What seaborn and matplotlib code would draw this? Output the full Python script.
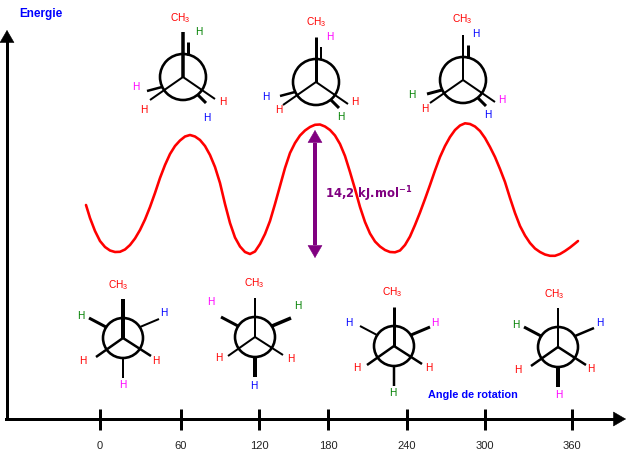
import matplotlib
matplotlib.use("Agg")
import matplotlib.pyplot as plt
from matplotlib.patches import Circle
import seaborn as sns
import pandas as pd

sns.set_style("white")
plt.rcParams["font.family"] = ["Liberation Sans", "DejaVu Sans"]
plt.rcParams["mathtext.default"] = "regular"

# Chart values, in the picture's own rotation scale (pixel positions of the uneven axis)
tick_pos = [100, 181, 259, 328, 407, 485, 572]
tick_labels = ["0", "60", "120", "180", "240", "300", "360"]
curve_x = [86, 90, 95, 100, 105, 110, 115, 120, 125, 130, 135, 140, 145, 150, 155, 160, 165, 170, 175, 180,
           185, 190, 195, 200, 205, 210, 215, 220, 225, 230, 235, 240, 245, 250, 255, 260, 265, 270, 275, 280,
           285, 290, 295, 300, 305, 310, 315, 320, 325, 330, 335, 340, 345, 350, 355, 360, 365, 370, 375, 380,
           385, 390, 395, 400, 405, 410, 415, 420, 425, 430, 435, 440, 445, 450, 455, 460, 465, 470, 475, 480,
           485, 490, 495, 500, 505, 510, 515, 520, 525, 530, 535, 540, 545, 550, 555, 560, 565, 570, 575, 578]
curve_y = [205, 218, 231, 241, 247, 250.5, 252, 251.8, 249.5, 245, 238.5, 230, 219.5, 207, 193, 178, 165, 154, 146, 140.5,
           136.5, 135, 136.5, 140, 146, 155, 167, 183, 204, 223, 237.5, 246.5, 252, 254, 251.5, 244, 234, 221, 204, 186,
           168, 153, 143, 135.5, 130.5, 127, 124.8, 124.5, 126.5, 130, 135.5, 144, 156, 172, 189, 207, 222, 233.5, 241.5, 246.5,
           250, 252, 252.3, 250.5, 245, 236.5, 225, 212.5, 199, 185, 170.5, 157, 146, 137, 130, 125.5, 123.3, 124, 126.5, 131,
           138, 147, 157, 169, 182, 198, 213, 226, 235.5, 243, 248.5, 252, 254.5, 255.8, 255.8, 254, 251, 247.5, 243.5, 241]

# Newman projections: centres, radii, bond line widths (px), labels
top_centres = [(183, 77), (316, 82), (463, 80)]
bottom_centres = [(123, 338), (255, 337), (394, 346), (558, 347)]
top_radius = 23
bottom_radius = 20
top_bonds = [((0, 0), (0, -45)), ((0, 0), (-33, 23)), ((0, 0), (32, 22)),
             ((5, -22), (5, -35)), ((-21, 10), (-36, 14)), ((15, 18), (23, 26))]
bottom_bonds = [((0, 0), (0, -39)), ((0, 0), (-27, 19)), ((0, 0), (28, 18)),
                ((0, 20), (0, 40)), ((-17, -11), (-34, -20)), ((17, -11), (36, -19))]
top_widths = [[3.5, 2, 2, 3, 2.5, 3], [3, 2, 2, 2, 2.5, 3], [2, 2, 2, 3, 3, 3]]
bottom_widths = [[4, 2.5, 2.5, 2, 3, 2], [2, 2, 2, 4, 3, 3.5], [3, 2.5, 2.5, 2.5, 2, 3], [2, 2.5, 2.5, 4, 3, 2.5]]

RED, GREEN, BLUE, PINK, PURPLE = "#ff0000", "#008000", "#0000ff", "#ff00ff", "#800080"
CH3 = "CH$_3$"
labels = [
    (CH3, 180, 18, RED), ("H", 199, 32, GREEN), ("H", 136, 87, PINK), ("H", 144, 110, RED), ("H", 223, 102, RED), ("H", 207, 118, BLUE),
    (CH3, 316, 22, RED), ("H", 330, 37, PINK), ("H", 266, 97, BLUE), ("H", 279, 110, RED), ("H", 355, 102, RED), ("H", 341, 117, GREEN),
    (CH3, 462, 19, RED), ("H", 476, 34, BLUE), ("H", 412, 95, GREEN), ("H", 425, 109, RED), ("H", 502, 100, PINK), ("H", 488, 115, BLUE),
    (CH3, 118, 285, RED), ("H", 81, 316, GREEN), ("H", 164, 313, BLUE), ("H", 83, 361, RED), ("H", 156, 361, RED), ("H", 123, 385, PINK),
    (CH3, 254, 283, RED), ("H", 211, 302, PINK), ("H", 298, 306, GREEN), ("H", 219, 358, RED), ("H", 291, 359, RED), ("H", 254, 386, BLUE),
    (CH3, 392, 292, RED), ("H", 349, 323, BLUE), ("H", 435, 323, PINK), ("H", 357, 368, RED), ("H", 429, 368, RED), ("H", 393, 393, GREEN),
    (CH3, 554, 294, RED), ("H", 516, 325, GREEN), ("H", 600, 323, BLUE), ("H", 518, 370, RED), ("H", 591, 369, RED), ("H", 559, 395, PINK),
]

W, H = 626, 465
PX = 72 / 100
fig = plt.figure(figsize=(W / 100, H / 100), dpi=100, facecolor="white")
ax = fig.add_axes([0, 0, 1, 1])
ax.set_xlim(0, W)
ax.set_ylim(H, 0)
ax.patch.set_alpha(0)

df = pd.DataFrame({"angle": curve_x, "E": curve_y})
sns.lineplot(data=df, x="angle", y="E", ax=ax, color=RED, lw=2.6 * PX, sort=False, estimator=None)
for line in ax.get_lines():
    line.set_solid_joinstyle("round")
ax.set_xlabel("")
ax.set_ylabel("")

# Axes as spines and ticks
AX_X, AX_Y = 7, 419
for s in ("top", "right"):
    ax.spines[s].set_visible(False)
ax.spines["left"].set_position(("data", AX_X))
ax.spines["bottom"].set_position(("data", AX_Y))
ax.spines["left"].set_bounds(42, AX_Y)
ax.spines["bottom"].set_bounds(AX_X - 1, 613)
for s in ("left", "bottom"):
    ax.spines[s].set_linewidth(3 * PX)
    ax.spines[s].set_color("black")
ax.set_yticks([])
ax.set_xticks(tick_pos)
ax.set_xticklabels(tick_labels, fontsize=8, color="#222222")
ax.tick_params(axis="x", direction="inout", length=21 * PX, width=3 * PX, color="black", pad=8, bottom=True)

def head(base, tip, color):
    ax.annotate("", xy=tip, xytext=base, xycoords="data", textcoords="data", annotation_clip=False,
                arrowprops=dict(arrowstyle="-|>,head_length=0.86,head_width=0.5", color=color, lw=0.4,
                                shrinkA=0, shrinkB=0, mutation_scale=10))

head((AX_X, 43), (AX_X, 30), "black")
head((612, AX_Y), (626, AX_Y), "black")
ax.plot([315, 315], [143, 245], color=PURPLE, lw=4 * PX, solid_capstyle="butt")
head((315, 144), (315, 130), PURPLE)
head((315, 244), (315, 258), PURPLE)

# Newman projections
for centres, radius, bonds, widths in ((top_centres, top_radius, top_bonds, top_widths),
                                       (bottom_centres, bottom_radius, bottom_bonds, bottom_widths)):
    for (cx, cy), ws in zip(centres, widths):
        ax.add_patch(Circle((cx, cy), radius, fill=False, ec="black", lw=2.6 * PX, zorder=3))
        for ((x0, y0), (x1, y1)), w in zip(bonds, ws):
            ax.plot([cx + x0, cx + x1], [cy + y0, cy + y1], color="black", lw=w * PX,
                    solid_capstyle="butt", zorder=3)

for text, x, y, color in labels:
    ax.text(x, y, text, color=color, fontsize=7.3, ha="center", va="center", zorder=4)

ax.text(19, 14, "Energie", color=BLUE, fontsize=8.5, fontweight="bold", ha="left", va="center")
ax.text(428, 395, "Angle de rotation", color=BLUE, fontsize=7.8, fontweight="bold", ha="left", va="center")
ax.text(325, 194, "14,2 kJ.mol$^{-1}$", color=PURPLE, fontsize=8.4, fontweight="bold", ha="left", va="center",
        family=["DejaVu Sans"])

fig.savefig("out.png", dpi=100, facecolor="white")
